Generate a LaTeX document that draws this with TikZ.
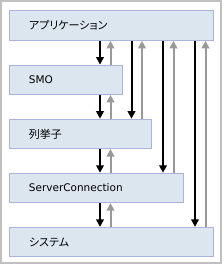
\documentclass[tikz,border=0pt]{standalone}
\usepackage{fontspec}
\setmainfont{DejaVu Sans}
\newfontfamily\jp[RawFeature=+palt, Scale=1.05]{Noto Sans CJK JP}
\usepackage{xcolor}
\usepackage{tikz}
\usetikzlibrary{positioning,arrows.meta}
\definecolor{boxfill}{HTML}{DCE6EE}
\definecolor{boxline}{HTML}{AAB4DA}
\definecolor{framegray}{HTML}{C0C0C0}
\definecolor{upgray}{HTML}{999999}

\begin{document}
\begin{tikzpicture}[
  x=1pt, y=1pt,
  font=\fontsize{10.5}{12}\selectfont,
  node distance=23.8pt,
  layer/.style={draw=boxline, fill=boxfill, line width=0.8pt, anchor=north west,
                minimum height=29.5pt, inner xsep=19.5pt, inner ysep=0pt, align=left},
  callflow/.style={-{Triangle[length=7.5pt,width=7.5pt]}, line width=2pt, black},
  backflow/.style={callflow, draw=upgray, fill=upgray},
]
\useasboundingbox (0,0) rectangle (223,-264);
\draw[framegray, line width=2pt] (1,-1) rectangle (220.5,-262.5);
\node[layer, text width=165pt] (app) at (9,-10.5) {\jp アプリケーション};
\node[layer, text width=74pt, below=of app.south west, anchor=north west] (smo) {SMO};
\node[layer, text width=103pt, below=of smo.south west, anchor=north west] (enum) {\jp 列挙子};
\node[layer, text width=135pt, below=of enum.south west, anchor=north west] (conn) {ServerConnection};
\node[layer, text width=165pt, below=of conn.south west, anchor=north west] (sys) {\jp システム};
\coordinate (d1) at (100,0);
\coordinate (u1) at (110.5,0);
\coordinate (d2) at (131.5,0);
\coordinate (u2) at (142,0);
\coordinate (d3) at (163,0);
\coordinate (u3) at (173.5,0);
\coordinate (d4) at (195,0);
\coordinate (u4) at (205.5,0);
\draw[callflow] (app.south -| d1) -- (smo.north -| d1);
\draw[backflow] (smo.north -| u1) -- (app.south -| u1);
\draw[callflow] (smo.south -| d1) -- (enum.north -| d1);
\draw[backflow] (enum.north -| u1) -- (smo.south -| u1);
\draw[callflow] (enum.south -| d1) -- (conn.north -| d1);
\draw[backflow] (conn.north -| u1) -- (enum.south -| u1);
\draw[callflow] (conn.south -| d1) -- (sys.north -| d1);
\draw[backflow] (sys.north -| u1) -- (conn.south -| u1);
\draw[callflow] (app.south -| d2) -- (enum.north -| d2);
\draw[backflow] (enum.north -| u2) -- (app.south -| u2);
\draw[callflow] (app.south -| d3) -- (conn.north -| d3);
\draw[backflow] (conn.north -| u3) -- (app.south -| u3);
\draw[callflow] (app.south -| d4) -- (sys.north -| d4);
\draw[backflow] (sys.north -| u4) -- (app.south -| u4);
\end{tikzpicture}
\end{document}
